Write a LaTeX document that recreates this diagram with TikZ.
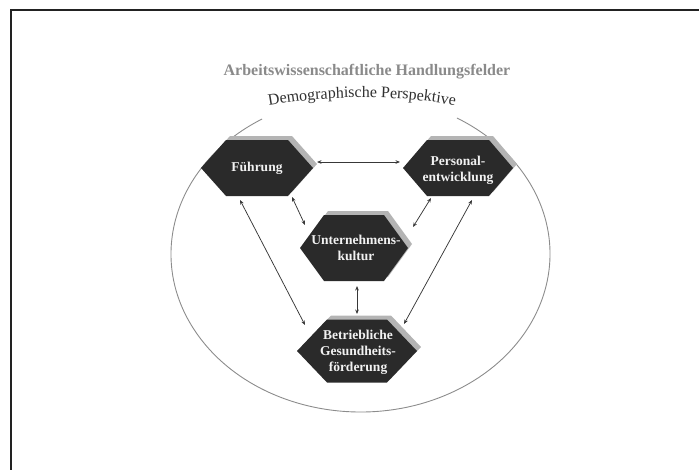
\documentclass[tikz,border=0pt]{standalone}
\usepackage{fontspec}
\setmainfont{Liberation Serif}
\usetikzlibrary{arrows.meta,decorations.text,calc}

\definecolor{framecol}{HTML}{222222}
\definecolor{titlecol}{HTML}{8A8A8A}
\definecolor{ringcol}{HTML}{8C8C8C}
\definecolor{hexfill}{HTML}{2A2A2A}
\definecolor{hexshade}{HTML}{B4B4B4}
\definecolor{hextext}{HTML}{F2F2F2}
\definecolor{linkcol}{HTML}{383838}
\definecolor{perspcol}{HTML}{303030}

\begin{document}
\begin{tikzpicture}[x=1pt,y=1pt,
  frameline/.style={draw=framecol, line width=2.2pt},
  ringline/.style={draw=ringcol, line width=0.9pt},
  hexlabel/.style={text=hextext, align=center,
    font=\fontsize{13.5}{16}\selectfont\bfseries},
  link/.style={draw=linkcol, line width=0.75pt,
    {Stealth[length=4.5pt,width=3.6pt]}-{Stealth[length=4.5pt,width=3.6pt]}},
  % hexagon with a light offset shadow: half width, half height, corner inset
  pics/hexbox/.style n args={3}{code={
    \foreach \dd/\col in {4/hexshade, 0/hexfill}{
      \fill[\col, shift={(\dd,\dd)}]
        (-#1,0) -- (-#1+#3,#2) -- (#1-#3,#2) -- (#1,0)
        -- (#1-#3,-#2) -- (-#1+#3,-#2) -- cycle;
    }
  }},
]
\useasboundingbox (0,0) rectangle (699,-469);
\clip (0,0) rectangle (699,-469);

% outer frame
\draw[frameline] (11,-10) rectangle (730,-500);

% title
\node[text=titlecol, font=\fontsize{16}{18}\selectfont\bfseries, anchor=base]
  (title) at (367,-75) {Arbeitswissenschaftliche Handlungsfelder};

% perspective ring with a gap for its curved caption
\coordinate (ring) at (360.5,-254);
\draw[ringline] ($(ring)+(121.3:189.5pt and 158pt)$)
  arc[start angle=121.3, end angle=419.4, x radius=189.5pt, y radius=158pt];
\coordinate (arcc) at (362,-637.5);
\path[decorate, decoration={text along path, text align=center,
    text={|\color{perspcol}\fontsize{16}{18}\selectfont|Demographische Perspektive}}]
  ($(arcc)+(104:540pt)$) arc[start angle=104, end angle=76, radius=540pt];

% hexagons
\pic at (257,-168) {hexbox={56}{28}{25}};
\pic at (458,-168) {hexbox={55}{28}{24}};
\pic at (354,-248) {hexbox={54}{33}{24}};
\pic at (357,-351) {hexbox={60}{31.5}{30}};

% labels
\node[hexlabel] (fue) at (257,-168) {Führung};
\node[hexlabel] (pe) at (458,-170) {Personal-\\entwicklung};
\node[hexlabel] (uk) at (356,-248) {Unternehmens-\\kultur};
\node[hexlabel] (bgf) at (358,-352) {Betriebliche\\Gesundheits-\\förderung};

% connectors
\draw[link] ($(fue)+(60,6)$) -- ($(pe)+(-58,8)$);
\draw[link] ($(fue)+(35,-29)$) -- ($(uk)+(-51,23)$);
\draw[link] ($(pe)+(-27,-28)$) -- ($(uk)+(57,21)$);
\draw[link] ($(fue)+(-17,-32)$) -- ($(bgf)+(-53,27)$);
\draw[link] ($(pe)+(14,-30)$) -- ($(bgf)+(46,28)$);
\draw[link] ($(uk)+(1,-38)$) -- ($(bgf)+(-1,38)$);
\end{tikzpicture}
\end{document}
